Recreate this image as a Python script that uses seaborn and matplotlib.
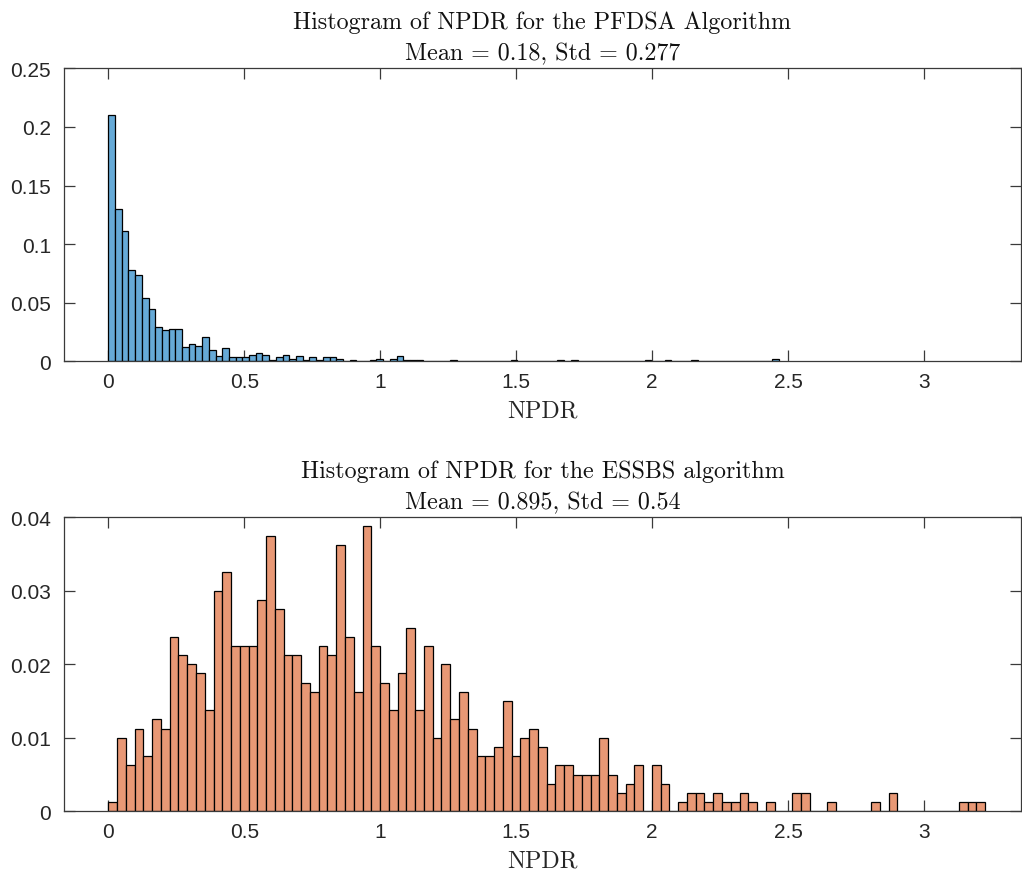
import numpy as np
import pandas as pd
import matplotlib
matplotlib.use("Agg")
import matplotlib.pyplot as plt
import seaborn as sns

# Probability per bin for PFDSA (100 equal bins from 0 to max)
pfdsa_prob = [
    0.2105, 0.1298, 0.1108, 0.0776, 0.0739, 0.0537, 0.0449, 0.0295, 0.0264, 0.0273,
    0.0273, 0.0122, 0.0148, 0.0134, 0.0210, 0.0097, 0.0045, 0.0111, 0.0034, 0.0034,
    0.0034, 0.0057, 0.0068, 0.0057, 0.0011, 0.0034, 0.0057, 0.0023, 0.0045, 0.0011,
    0.0034, 0.0011, 0.0034, 0.0034, 0.0023, 0.0, 0.0011, 0.0, 0.0, 0.0011,
    0.0023, 0.0, 0.0023, 0.0045, 0.0011, 0.0011, 0.0011, 0.0, 0.0, 0.0,
    0.0, 0.0011, 0.0, 0.0, 0.0, 0.0, 0.0, 0.0, 0.0, 0.0,
    0.0011, 0.0, 0.0, 0.0, 0.0, 0.0, 0.0, 0.0011, 0.0, 0.0011,
    0.0, 0.0, 0.0, 0.0, 0.0, 0.0, 0.0, 0.0, 0.0, 0.0,
    0.0011, 0.0, 0.0, 0.0011, 0.0, 0.0, 0.0, 0.0011, 0.0, 0.0,
    0.0, 0.0, 0.0, 0.0, 0.0, 0.0, 0.0, 0.0, 0.0, 0.0023,
]
pfdsa_max = 2.4647

# Counts per bin for ESSBS (100 equal bins), normalised by the sample size
essbs_counts = [
    1, 8, 5, 9, 6, 10, 9, 19, 17, 16,
    15, 11, 24, 26, 18, 18, 18, 23, 30, 22,
    17, 17, 14, 13, 18, 17, 29, 19, 13, 31,
    18, 14, 11, 15, 20, 11, 18, 8, 16, 10,
    13, 9, 6, 6, 7, 12, 6, 8, 9, 7,
    3, 5, 5, 4, 4, 4, 8, 4, 2, 3,
    5, 0, 5, 3, 0, 1, 2, 2, 1, 2,
    1, 1, 2, 1, 0, 1, 0, 0, 2, 2,
    0, 0, 1, 0, 0, 0, 0, 1, 0, 2,
    0, 0, 0, 0, 0, 0, 0, 1, 1, 1,
]
essbs_n = 800
essbs_max = 3.2237

titles = [
    "Histogram of NPDR for the PFDSA Algorithm\nMean = 0.18, Std = 0.277",
    "Histogram of NPDR for the ESSBS algorithm\nMean = 0.895, Std = 0.54",
]
x_ticks = [0, 0.5, 1, 1.5, 2, 2.5, 3]
x_ticklabels = ["0", "0.5", "1", "1.5", "2", "2.5", "3"]
y_ticks_top = [0, 0.05, 0.1, 0.15, 0.2, 0.25]
y_ticklabels_top = ["0", "0.05", "0.1", "0.15", "0.2", "0.25"]
y_ticks_bot = [0, 0.01, 0.02, 0.03, 0.04]
y_ticklabels_bot = ["0", "0.01", "0.02", "0.03", "0.04"]

sns.set_theme(style="white")
plt.rcParams["font.family"] = ["Liberation Sans", "DejaVu Sans"]
plt.rcParams["axes.unicode_minus"] = False

W, H = 1022, 878
fig = plt.figure(figsize=(W / 100, H / 100), dpi=100)
fig.patch.set_facecolor("white")

def axes_px(left, top, right, bottom):
    return fig.add_axes([left / W, 1 - bottom / H, (right - left) / W, (bottom - top) / H])

ax_top = axes_px(64.3, 69.3, 1020.5, 362.3)
ax_bot = axes_px(64.3, 518.3, 1020.5, 812.3)

blue = (0.4, 0.668, 0.845)
orange = (0.91, 0.595, 0.459)

datasets = [
    (ax_top, np.array(pfdsa_prob, dtype=float), pfdsa_max, blue, y_ticks_top, y_ticklabels_top, 0.25),
    (ax_bot, np.array(essbs_counts, dtype=float) / essbs_n, essbs_max, orange, y_ticks_bot, y_ticklabels_bot, 0.04),
]

axis_col = "#3a3a3a"
for (ax, probs, vmax, col, yt, ytl, ytop), title in zip(datasets, titles):
    nb = len(probs)
    width = vmax / nb
    centers = (np.arange(nb) + 0.5) * width
    df = pd.DataFrame({"NPDR": centers, "p": probs})
    sns.histplot(data=df, x="NPDR", weights="p", binwidth=width, binrange=(0, vmax),
                 stat="count", ax=ax, color=col, alpha=1.0,
                 edgecolor="black", linewidth=0.9)
    ax.set_xlim(-0.1618, 3.354)
    ax.set_ylim(0, ytop)
    ax.set_xticks(x_ticks)
    ax.set_xticklabels(x_ticklabels)
    ax.set_yticks(yt)
    ax.set_yticklabels(ytl)
    ax.set_ylabel("")
    ax.set_xlabel("NPDR", fontfamily="cmr10", fontsize=17.3, color="#262626", labelpad=6)
    ax.set_title(title, fontfamily="cmr10", fontsize=17.3, color="#111111",
                 pad=6.8, linespacing=1.5)
    for s in ax.spines.values():
        s.set_visible(True)
        s.set_color(axis_col)
        s.set_linewidth(0.9)
    ax.tick_params(axis="both", which="major", direction="in", length=8, width=0.9,
                   color=axis_col, labelsize=15, labelcolor="#262626",
                   top=True, right=True, bottom=True, left=True)
    ax.tick_params(axis="x", pad=8)
    ax.tick_params(axis="y", pad=9.5)
    ax.grid(False)
    ax.set_facecolor("white")

fig.savefig("out.png", dpi=100, facecolor="white")
